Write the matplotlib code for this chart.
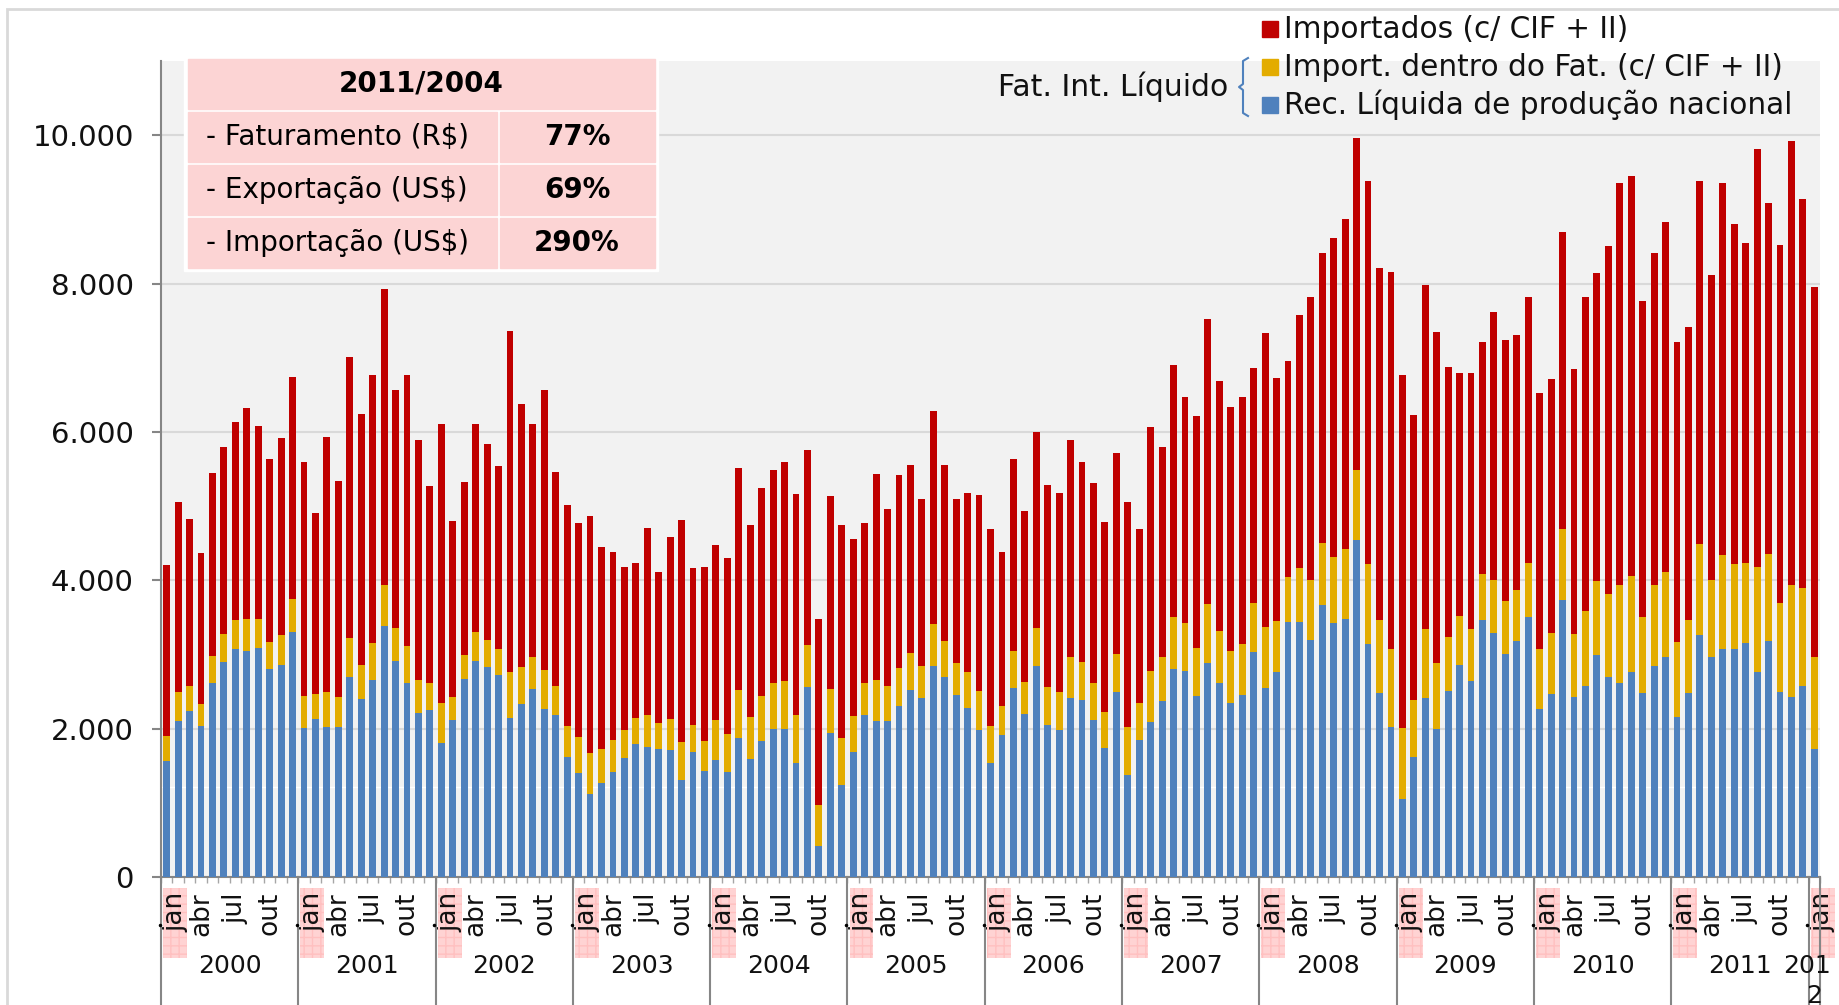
import numpy as np
import matplotlib.pyplot as plt
from matplotlib.patches import Rectangle
from matplotlib.lines import Line2D
from matplotlib.ticker import FuncFormatter

# monthly values, jan/2000 .. jan/2012 (R$ milhões)
years = list(range(2000, 2013))
month_labels = {0: 'jan', 3: 'abr', 6: 'jul', 9: 'out'}

rec_nacional = [
    1560, 2100, 2240, 2030, 2610, 2900, 3070, 3050, 3090, 2800, 2860, 3300,
    2010, 2130, 2020, 2020, 2690, 2400, 2650, 3380, 2910, 2610, 2210, 2250,
    1810, 2110, 2670, 2910, 2830, 2720, 2140, 2330, 2540, 2270, 2180, 1620,
    1400, 1120, 1270, 1420, 1600, 1790, 1750, 1730, 1710, 1310, 1690, 1430,
    1580, 1410, 1870, 1590, 1830, 2000, 1990, 1540, 2560, 420, 1940, 1240,
    1690, 2180, 2100, 2100, 2310, 2520, 2410, 2840, 2700, 2450, 2280, 1980,
    1540, 1910, 2550, 2200, 2840, 2050, 1980, 2410, 2390, 2120, 1740, 2490,
    1380, 1850, 2090, 2370, 2800, 2780, 2440, 2880, 2610, 2350, 2450, 3030,
    2550, 2760, 3440, 3440, 3200, 3670, 3420, 3480, 4540, 3140, 2480, 2020,
    1050, 1620, 2410, 2000, 2510, 2860, 2640, 3460, 3290, 3010, 3180, 3510,
    2270, 2470, 3730, 2430, 2570, 2990, 2690, 2620, 2760, 2480, 2850, 2970,
    2160, 2480, 3260, 2970, 3080, 3080, 3160, 2760, 3180, 2490, 2430, 2580,
    1730,
]
import_dentro = [
    340, 390, 330, 300, 370, 380, 400, 430, 390, 370, 400, 450,
    430, 340, 480, 400, 530, 460, 510, 560, 450, 510, 440, 360,
    530, 320, 320, 390, 370, 350, 630, 500, 430, 520, 400, 420,
    490, 550, 460, 430, 380, 350, 430, 350, 420, 510, 360, 400,
    530, 520, 650, 570, 610, 620, 650, 650, 570, 550, 590, 630,
    480, 430, 550, 470, 510, 500, 440, 570, 480, 430, 490, 530,
    500, 390, 490, 430, 510, 510, 510, 550, 510, 500, 490, 510,
    640, 490, 690, 590, 710, 640, 650, 800, 710, 690, 690, 670,
    820, 690, 610, 720, 800, 830, 900, 940, 940, 1080, 980, 1060,
    960, 770, 930, 890, 720, 660, 700, 630, 720, 710, 690, 720,
    810, 820, 960, 850, 1020, 1000, 1130, 1310, 1300, 1020, 1080, 1140,
    1010, 980, 1230, 1030, 1260, 1140, 1070, 1420, 1180, 1200, 1500, 1320,
    1240,
]
importados = [
    2310, 2570, 2250, 2040, 2460, 2520, 2660, 2840, 2600, 2470, 2660, 2990,
    3150, 2440, 3430, 2920, 3790, 3380, 3610, 3980, 3210, 3650, 3240, 2660,
    3770, 2370, 2330, 2800, 2640, 2470, 4590, 3550, 3130, 3770, 2880, 2970,
    2880, 3200, 2720, 2530, 2200, 2090, 2530, 2030, 2450, 2990, 2120, 2350,
    2360, 2370, 3000, 2580, 2810, 2860, 2960, 2970, 2630, 2510, 2600, 2870,
    2380, 2160, 2780, 2390, 2600, 2530, 2240, 2870, 2380, 2220, 2410, 2640,
    2650, 2080, 2600, 2300, 2650, 2730, 2680, 2930, 2690, 2690, 2550, 2710,
    3040, 2350, 3280, 2840, 3390, 3050, 3120, 3840, 3360, 3300, 3330, 3160,
    3960, 3280, 2900, 3420, 3820, 3910, 4290, 4450, 4480, 5160, 4750, 5070,
    4760, 3840, 4640, 4460, 3640, 3280, 3460, 3120, 3600, 3520, 3440, 3590,
    3450, 3420, 4010, 3570, 4230, 4150, 4680, 5430, 5390, 4270, 4480, 4720,
    4040, 3960, 4890, 4120, 5020, 4580, 4310, 5640, 4720, 4830, 5990, 5240,
    4980,
]

series_names = ['Importados (c/ CIF + II)',
                'Import. dentro do Fat. (c/ CIF + II)',
                'Rec. Líquida de produção nacional']
colors = ['#C00000', '#E3AC00', '#4F81BD']

table_title = '2011/2004'
table_rows = ['- Faturamento (R$)', '- Exportação (US$)', '- Importação (US$)']
table_vals = ['77%', '69%', '290%']

W, H = 1839, 1005


def fx(px):
    return px / W


def fy(py):
    return 1 - py / H


fig = plt.figure(figsize=(W / 100, H / 100), dpi=100)
ax = fig.add_axes([fx(161), fy(877), fx(1820) - fx(161), fy(61) - fy(877)])
ax.set_facecolor('#F2F2F2')

x = np.arange(len(rec_nacional))
b = np.array(rec_nacional)
m = np.array(import_dentro)
r = np.array(importados)
ax.bar(x, b, width=0.6, color=colors[2], zorder=3)
ax.bar(x, m, bottom=b, width=0.6, color=colors[1], zorder=3)
ax.bar(x, r, bottom=b + m, width=0.6, color=colors[0], zorder=3)

ax.set_xlim(-0.5, len(x) - 0.5)
ax.set_ylim(0, 11000)
ax.set_yticks(range(0, 10001, 2000))
ax.yaxis.set_major_formatter(FuncFormatter(lambda v, p: f'{int(v):,}'.replace(',', '.')))
ax.grid(axis='y', color='#D9D9D9', lw=1.5, zorder=0)
ax.axhline(1215, color='white', lw=1, zorder=1)
for s in ['top', 'right']:
    ax.spines[s].set_visible(False)
for s in ['left', 'bottom']:
    ax.spines[s].set_color('#868686')
    ax.spines[s].set_linewidth(1.5)
ax.tick_params(axis='y', length=6.5, width=1.5, color='#868686', pad=13,
               labelsize=21, labelcolor='#111111')
ax.set_xticks([])
ax.set_xticks(np.arange(-0.5, len(x), 1), minor=True)
ax.tick_params(axis='x', which='minor', length=4, width=1, color='#A6A6A6')

trans = ax.get_xaxis_transform()
hpx = 877 - 61


def ay(py):
    return -(py - 877) / hpx


# month labels, jan highlighted
for i in x:
    mo = i % 12
    if mo not in month_labels:
        continue
    if mo == 0:
        ax.add_patch(Rectangle((i - 0.32, ay(958)), 2.09, ay(888) - ay(958),
                               transform=trans, clip_on=False, facecolor='#FFD3D3',
                               edgecolor='#FFC0C0', hatch='++', lw=0, zorder=1))
        ax.text(i + 0.73, ay(892), 'jan', transform=trans, rotation=90, ha='center',
                va='top', fontsize=19, color='#111111', zorder=2)
    else:
        ax.text(i, ay(892), month_labels[mo], transform=trans, rotation=90,
                ha='center', va='top', fontsize=19, color='#111111')

# year separators and labels
for k in range(len(years)):
    xs = -0.5 + 12 * k
    ax.plot([xs, xs], [0, ay(1010)], transform=trans, clip_on=False,
            color='#868686', lw=1.5)
    ax.plot([xs - 0.1], [ay(925)], transform=trans, clip_on=False,
            marker='.', color='black', markersize=3)
ax.plot([len(x) - 0.5] * 2, [0, ay(1010)], transform=trans, clip_on=False,
        color='#868686', lw=1.5)
for k, yr in enumerate(years[:-1]):
    ax.text(12 * k + 5.5, ay(966), str(yr), transform=trans, ha='center',
            va='center', fontsize=18, color='#111111')
ax.text(143.4, ay(966), str(years[-1])[:3], transform=trans, ha='center',
        va='center', fontsize=18, color='#111111')
ax.text(144.0, ay(996), str(years[-1])[3:], transform=trans, ha='center',
        va='center', fontsize=18, color='#111111')

# outer border
fig.add_artist(Rectangle((fx(7), fy(1020)), fx(1860) - fx(7), fy(9) - fy(1020),
                         transform=fig.transFigure, fill=False,
                         edgecolor='#D9D9D9', lw=2))

# table
fig.add_artist(Rectangle((fx(184), fy(271)), fx(658) - fx(184), fy(57) - fy(271),
                         transform=fig.transFigure, color='white', zorder=5))
pink = '#FCD4D4'
fig.add_artist(Rectangle((fx(188), fy(109)), fx(655) - fx(188), fy(59) - fy(109),
                         transform=fig.transFigure, color=pink, zorder=6))
fig.text(fx(421), fy(84), table_title, ha='center', va='center', fontsize=20,
         fontweight='bold', zorder=7)
for j, (lab, val) in enumerate(zip(table_rows, table_vals)):
    top = 112 + 53 * j
    bot = top + 50
    fig.add_artist(Rectangle((fx(188), fy(bot)), fx(497) - fx(188), fy(top) - fy(bot),
                             transform=fig.transFigure, color=pink, zorder=6))
    fig.add_artist(Rectangle((fx(500), fy(bot)), fx(655) - fx(500), fy(top) - fy(bot),
                             transform=fig.transFigure, color=pink, zorder=6))
    fig.text(fx(206), fy((top + bot) / 2), lab, ha='left', va='center',
             fontsize=20, zorder=7)
    fig.text(fx(577), fy((top + bot) / 2), val, ha='center', va='center',
             fontsize=20, fontweight='bold', zorder=7)

# legend
for name, col, yc in zip(series_names, colors, [29, 67, 105]):
    fig.add_artist(Rectangle((fx(1262), fy(yc + 8)), fx(1278) - fx(1262), fy(yc - 8) - fy(yc + 8),
                             transform=fig.transFigure, color=col))
    fig.text(fx(1284), fy(yc), name, ha='left', va='center', fontsize=21.3, color='#111111')
fig.text(fx(1228), fy(87), 'Fat. Int. Líquido', ha='right', va='center',
         fontsize=21.5, color='#111111')
bx = [1248, 1243, 1243, 1239, 1243, 1243, 1248]
by = [58, 61, 84, 87, 90, 113, 116]
fig.add_artist(Line2D([fx(v) for v in bx], [fy(v) for v in by],
                      transform=fig.transFigure, color='#4F81BD', lw=1.5))

fig.savefig('out.png', dpi=100)
